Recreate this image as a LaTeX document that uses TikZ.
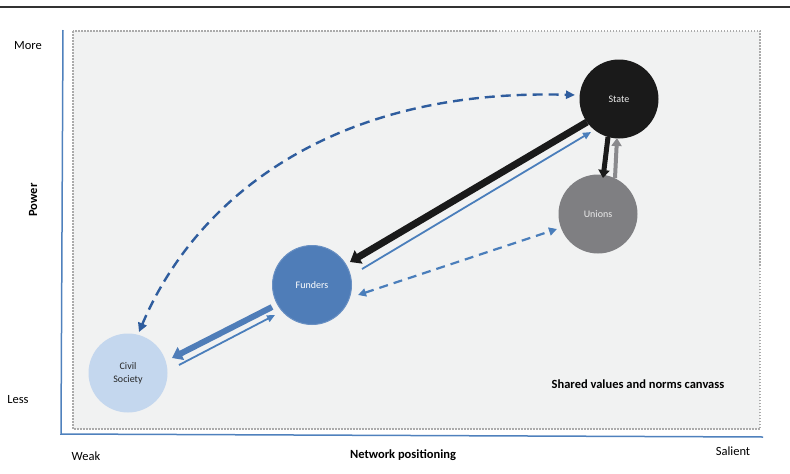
\documentclass[tikz,border=0pt]{standalone}
\usepackage{fontspec}
\setmainfont{Carlito}
\usetikzlibrary{arrows.meta,calc}
\definecolor{stateC}{HTML}{1A1A1A}
\definecolor{unionsC}{HTML}{7F7F82}
\definecolor{fundersC}{HTML}{4F7DB8}
\definecolor{civilC}{HTML}{C4D7EE}
\definecolor{canvasC}{HTML}{F1F2F2}
\definecolor{dotC}{HTML}{ABABAB}
\definecolor{axisC}{HTML}{4F81BD}
\definecolor{curveC}{HTML}{2F5D9E}
\definecolor{blueC}{HTML}{4A7EBB}
\definecolor{grayArr}{HTML}{8A8A8D}
\definecolor{ruleC}{HTML}{333333}
\begin{document}
\begin{tikzpicture}[x=1pt,y=-1pt,
  circ/.style={circle,minimum size=79pt,inner sep=0pt,font=\fontsize{10}{13}\selectfont,align=center},
  lbl/.style={font=\fontsize{12.5}{15}\selectfont,inner sep=0pt},
  blbl/.style={font=\fontsize{12.5}{15}\selectfont\bfseries,inner sep=0pt},
  thinblue/.style={draw=blueC,line width=1.8pt,-{Triangle[length=8pt,width=7pt]}},
  dashblue/.style={draw=blueC,line width=2.2pt,dash pattern=on 9pt off 6pt},
  bighead/.style={-{Triangle[length=10pt,width=15pt]}}
]
\useasboundingbox (0,0) rectangle (790,474);
% top rule
\draw[ruleC,line width=1.5pt] (0,7) -- (790,7);
% canvas
\draw[fill=canvasC,draw=dotC,line width=1.5pt,dash pattern=on 1.5pt off 1.5pt] (73,31) rectangle (760,429);
% axes
\draw[axisC,line width=1.5pt] (63,30) -- (61,434) -- (763,437);
% labels
\node[lbl] (more) at (28,46) {More};
\node[lbl] (less) at (18,400) {Less};
\node[blbl,rotate=90] (power) at (33,200) {Power};
\node[lbl] (weak) at (86,456) {Weak};
\node[blbl] (netpos) at (403,455) {Network positioning};
\node[lbl] (salient) at (733,451) {Salient};
\node[blbl] (shared) at (638,384) {Shared values and norms canvass};
% circles
\node[circ,fill=stateC,text=white!92!black] (state) at (619,99) {State};
\node[circ,fill=unionsC,text=white!92!black] (unions) at (598,214) {Unions};
\node[circ,fill=fundersC,draw=fundersC!85!white,line width=1pt,text=white] (funders) at (312,285) {Funders};
\node[circ,fill=civilC,text=black!85] (civil) at (128,373) {Civil\\Society};
% connectors
\draw[stateC,line width=7pt,bighead] ($(state)+(-32,23)$) -- ($(funders)+(38,-23)$);
\draw[thinblue] ($(funders)+(50,-16)$) -- ($(state)+(-28,33)$);
\draw[dashblue,{Triangle[length=8pt,width=8pt]}-{Triangle[length=8pt,width=8pt]}] ($(funders)+(46,10)$) -- ($(unions)+(-41,15)$);
\draw[stateC,line width=5pt,-{Triangle[length=8pt,width=11pt]}] ($(state)+(-11,38)$) -- ($(unions)+(5,-36)$);
\draw[grayArr,line width=4pt,-{Triangle[length=8pt,width=10pt]}] ($(unions)+(17,-36)$) -- ($(state)+(-2,39)$);
\draw[fundersC,line width=6pt,-{Triangle[length=10pt,width=14pt]}] ($(funders)+(-40,22)$) -- ($(civil)+(44,-15)$);
\draw[thinblue] ($(civil)+(51,-8)$) -- ($(funders)+(-37,30)$);
\draw[draw=curveC,line width=2.4pt,dash pattern=on 10pt off 6pt,{Triangle[length=9pt,width=9pt]}-{Triangle[length=9pt,width=8pt]}]
  ($(civil)+(11,-41)$) .. controls (195,200) and (330,88) .. ($(state)+(-44,-4)$);
\end{tikzpicture}
\end{document}
